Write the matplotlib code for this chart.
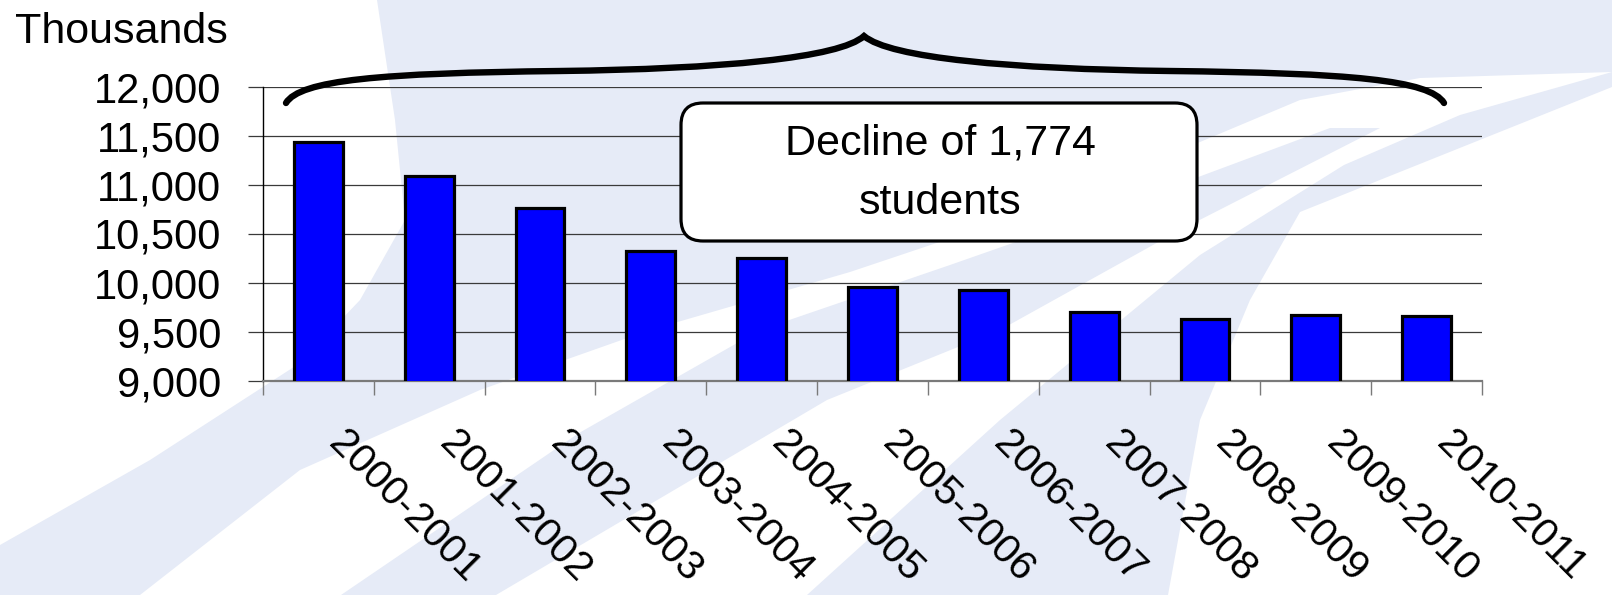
import matplotlib
matplotlib.use("Agg")
import matplotlib.pyplot as plt
import numpy as np
from matplotlib.patches import Polygon, FancyBboxPatch, PathPatch
from matplotlib.path import Path
import matplotlib.transforms as mtransforms

# ---- data ----
categories = ["2000-2001", "2001-2002", "2002-2003", "2003-2004", "2004-2005",
              "2005-2006", "2006-2007", "2007-2008", "2008-2009", "2009-2010",
              "2010-2011"]
enrollment = [11430, 11090, 10760, 10320, 10250, 9955, 9920, 9700, 9630, 9665, 9656]
y_ticks = [9000, 9500, 10000, 10500, 11000, 11500, 12000]
y_label = "Thousands"
note_lines = ["Decline of 1,774", "students"]

W, H = 1612, 595
DPI = 100
plt.rcParams['font.family'] = ['Liberation Sans', 'DejaVu Sans']

fig = plt.figure(figsize=(W / DPI, H / DPI), dpi=DPI)
fig.patch.set_facecolor('white')

def px(x, y):
    """pixel coords (origin top-left) -> inches for fig.dpi_scale_trans"""
    return (x / DPI, (H - y) / DPI)

T = fig.dpi_scale_trans
wm = '#e6ebf7'
# ---- faint watermark background (decorative) ----
shapes = [
    # main swoosh: from the top centre curving down to the bottom-left
    [(377, 0), (395, 120), (405, 220), (360, 300), (300, 363), (150, 460), (0, 545),
     (0, 595), (140, 595), (300, 470), (480, 390), (650, 330), (850, 272), (1050, 205),
     (1300, 100), (1420, 78), (1612, 72), (1612, 0)],
    # middle band
    [(341, 595), (579, 433), (760, 330), (950, 265), (1150, 195), (1330, 128),
     (1380, 128), (1180, 230), (1000, 330), (827, 400), (496, 595)],
    # right band
    [(807, 595), (1000, 420), (1200, 255), (1344, 165), (1460, 115), (1612, 72), (1612, 87),
     (1300, 212), (1250, 300), (1200, 420), (1168, 595)],
]
for s in shapes:
    fig.patches.append(Polygon([px(*p) for p in s], closed=True, transform=T,
                               facecolor=wm, edgecolor='none', zorder=-5))

# ---- axes ----
left, right, top, bottom = 263, 1482, 86.5, 380.5
ax = fig.add_axes([left / W, 1 - bottom / H, (right - left) / W, (bottom - top) / H])
ax.set_zorder(1)
ax.patch.set_alpha(0)

x = np.arange(len(categories))
ax.bar(x, enrollment, width=0.44, color='#0000ff', edgecolor='black', linewidth=2.3, zorder=3)
ax.set_ylim(9000, 12000)
ax.set_xlim(-0.5, len(categories) - 0.5)

ax.set_yticks(y_ticks)
ax.set_yticklabels([f"{v:,}" for v in y_ticks])
ax.yaxis.grid(True, color='#3a3a3a', linewidth=0.9, zorder=1)
ax.set_axisbelow(True)
ax.tick_params(axis='y', direction='out', length=11, width=0.9, color='#3a3a3a',
               labelsize=30, pad=19)

ax.set_xticks(x)
ax.set_xticklabels(categories)
ax.set_xticks(np.arange(-0.5, len(categories), 1), minor=True)
ax.tick_params(axis='x', which='major', length=0, labelsize=29.5, pad=31)
ax.tick_params(axis='x', which='minor', direction='out', length=10, width=1.0, color='#7a7a7a')
offset = mtransforms.ScaledTranslation(30 / DPI, 0, fig.dpi_scale_trans)
for lab in ax.get_xticklabels():
    lab.set_rotation(-45)
    lab.set_ha('left')
    lab.set_va('top')
    lab.set_rotation_mode('anchor')
    lab.set_transform(lab.get_transform() + offset)

for s in ['top', 'right']:
    ax.spines[s].set_visible(False)
ax.spines['left'].set_color('black')
ax.spines['left'].set_linewidth(1.0)
ax.spines['bottom'].set_color('#7a7a7a')
ax.spines['bottom'].set_linewidth(1.6)

# ---- "Thousands" label ----
fig.text(*px(15, 43), y_label, transform=T, fontsize=31, ha='left', va='baseline')

# ---- brace ----
cx = 865
left_half = [(286, 103), (300, 80), (380, 73), (560, 71), (720, 69), (840, 58), (864, 36)]
right_half = [(2 * cx - xx, yy) for (xx, yy) in reversed(left_half)]
verts = left_half + right_half[1:]
codes = [Path.MOVETO] + [Path.CURVE4] * 6 + [Path.CURVE4] * 6
brace = Path([px(*v) for v in verts], codes)
fig.patches.append(PathPatch(brace, transform=T, facecolor='none', edgecolor='black',
                             linewidth=4.6, capstyle='round', joinstyle='miter', zorder=5))

# ---- note box ----
bx0, by0, bx1, by1 = 681, 103, 1197, 241
box = FancyBboxPatch(px(bx0, by1), (bx1 - bx0) / DPI, (by1 - by0) / DPI,
                     boxstyle="round,pad=0,rounding_size=0.22", transform=T,
                     facecolor='white', edgecolor='black', linewidth=2.3, zorder=6)
fig.patches.append(box)
fig.text(*px(940, 154), note_lines[0], transform=T, fontsize=31, ha='center', va='baseline', zorder=7)
fig.text(*px(940, 214), note_lines[1], transform=T, fontsize=31, ha='center', va='baseline', zorder=7)

fig.savefig("out.png", dpi=DPI)
